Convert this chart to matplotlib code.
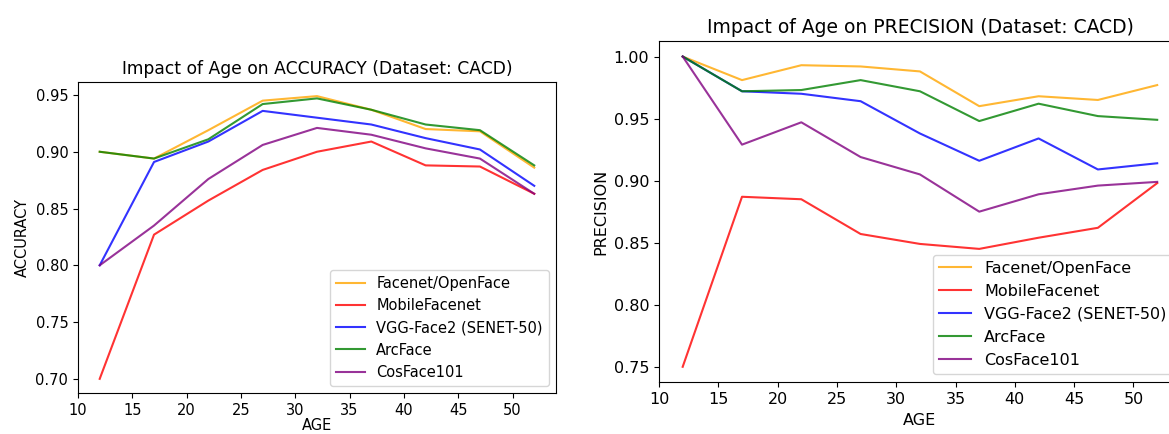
import numpy as np
import matplotlib.pyplot as plt

ages = [12, 17, 22, 27, 32, 37, 42, 47, 52]
models = ['Facenet/OpenFace', 'MobileFacenet', 'VGG-Face2 (SENET-50)', 'ArcFace', 'CosFace101']
colors = ['orange', 'red', 'blue', 'green', 'purple']

# accuracy per age group
acc_facenet = [0.900, 0.894, 0.919, 0.945, 0.949, 0.937, 0.920, 0.918, 0.886]
acc_mobile = [0.700, 0.827, 0.857, 0.884, 0.900, 0.909, 0.888, 0.887, 0.863]
acc_vgg = [0.800, 0.891, 0.909, 0.936, 0.930, 0.924, 0.912, 0.902, 0.870]
acc_arc = [0.900, 0.894, 0.911, 0.942, 0.947, 0.937, 0.924, 0.919, 0.888]
acc_cos = [0.800, 0.835, 0.876, 0.906, 0.921, 0.915, 0.903, 0.894, 0.863]

# precision per age group
prec_facenet = [1.000, 0.981, 0.993, 0.992, 0.988, 0.960, 0.968, 0.965, 0.977]
prec_mobile = [0.750, 0.887, 0.885, 0.857, 0.849, 0.845, 0.854, 0.862, 0.898]
prec_vgg = [1.000, 0.972, 0.970, 0.964, 0.938, 0.916, 0.934, 0.909, 0.914]
prec_arc = [1.000, 0.972, 0.973, 0.981, 0.972, 0.948, 0.962, 0.952, 0.949]
prec_cos = [1.000, 0.929, 0.947, 0.919, 0.905, 0.875, 0.889, 0.896, 0.899]

acc = [acc_facenet, acc_mobile, acc_vgg, acc_arc, acc_cos]
prec = [prec_facenet, prec_mobile, prec_vgg, prec_arc, prec_cos]

fig = plt.figure(figsize=(11.69, 4.34), dpi=100)

# left panel (a bit smaller in the reference)
ax1 = fig.add_axes([0.0667, 0.0945, 0.4089, 0.7166])
for y, name, c in zip(acc, models, colors):
    ax1.plot(ages, y, color=c, alpha=0.8, linewidth=1.5, label=name)
ax1.set_title('Impact of Age on ACCURACY (Dataset: CACD)', fontsize=12.3)
ax1.set_xlabel('AGE', fontsize=10.5, labelpad=0)
ax1.set_ylabel('ACCURACY', fontsize=10.5)
ax1.tick_params(labelsize=10.5)
ax1.legend(loc='lower right', fontsize=10.5)

# right panel (runs off the right edge like the reference)
ax2 = fig.add_axes([0.5637, 0.1191, 0.4465, 0.7864])
for y, name, c in zip(prec, models, colors):
    ax2.plot(ages, y, color=c, alpha=0.8, linewidth=1.5, label=name)
ax2.set_title('Impact of Age on PRECISION (Dataset: CACD)', fontsize=13.5)
ax2.set_xlabel('AGE', fontsize=11.5)
ax2.set_ylabel('PRECISION', fontsize=11.5)
ax2.tick_params(labelsize=11.5)
ax2.legend(loc='lower right', fontsize=11.5)

fig.savefig('out.png', dpi=100)
